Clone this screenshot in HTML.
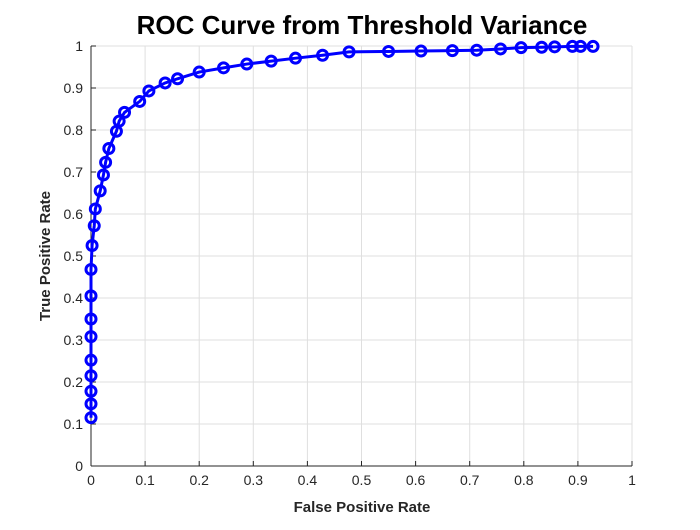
<!DOCTYPE html>
<html><head><style>
body{margin:0;background:#fff;}
svg text{font-family:"Liberation Sans",sans-serif;}
</style></head><body>
<svg id="chart" width="700" height="525" xmlns="http://www.w3.org/2000/svg">
<rect width="700" height="525" fill="#fff"/>
<g id="grid"></g>
<g id="axes"></g>
<g id="series"></g>
<text x="362" y="34" text-anchor="middle" font-size="26" font-weight="bold">ROC Curve from Threshold Variance</text>
<text x="362" y="512" text-anchor="middle" font-size="15" font-weight="bold" fill="#262626">False Positive Rate</text>
<text transform="translate(50,256) rotate(-90)" text-anchor="middle" font-size="15" font-weight="bold" fill="#262626">True Positive Rate</text>
</svg>
<script>
const fpr=[0,0,0,0,0,0,0,0,0,0.002,0.006,0.008,0.017,0.023,0.027,0.033,0.047,0.052,0.062,0.090,0.107,0.137,0.160,0.200,0.245,0.288,0.333,0.378,0.428,0.477,0.55,0.61,0.668,0.713,0.757,0.795,0.833,0.857,0.89,0.905,0.928];
const tpr=[0.115,0.148,0.178,0.215,0.252,0.308,0.350,0.405,0.468,0.525,0.572,0.612,0.655,0.693,0.723,0.756,0.797,0.821,0.842,0.868,0.893,0.912,0.922,0.938,0.948,0.957,0.964,0.971,0.978,0.986,0.987,0.988,0.989,0.990,0.993,0.996,0.997,0.998,0.999,0.999,0.999];
const xTicks=[0,0.1,0.2,0.3,0.4,0.5,0.6,0.7,0.8,0.9,1];
const yTicks=[0,0.1,0.2,0.3,0.4,0.5,0.6,0.7,0.8,0.9,1];
const L=91,R=632,T=46,B=466;
const sx=v=>L+v*(R-L), sy=v=>B-v*(B-T);
const NS="http://www.w3.org/2000/svg";
function mk(tag,attrs,parent){const e=document.createElementNS(NS,tag);for(const k in attrs)e.setAttribute(k,attrs[k]);parent.appendChild(e);return e;}
const grid=document.getElementById('grid'),axes=document.getElementById('axes'),ser=document.getElementById('series');
xTicks.forEach(t=>{
 const g=mk('line',{x1:sx(t),x2:sx(t),y1:T,y2:B,stroke:'#dfdfdf','stroke-width':1},grid);
 
 
 const k=mk('line',{x1:sx(t),x2:sx(t),y1:B,y2:B-5,stroke:'#262626'},axes);
 
 
 const tx=mk('text',{x:sx(t),y:B+19,'text-anchor':'middle','font-size':'14',fill:'#262626'},axes);
 tx.textContent=String(t);
 
 
});
yTicks.forEach(t=>{
 const g=mk('line',{x1:L,x2:R,y1:sy(t),y2:sy(t),stroke:'#dfdfdf','stroke-width':1},grid);
 
 
 const k=mk('line',{x1:L,x2:L+5,y1:sy(t),y2:sy(t),stroke:'#262626'},axes);
 
 
 const tx=mk('text',{x:L-8,y:sy(t)+5,'text-anchor':'end','font-size':'14',fill:'#262626'},axes);
 tx.textContent=String(t);
 
 
});
const xa=mk('line',{x1:L,x2:R,y1:B,y2:B,stroke:'#262626'},axes);


const ya=mk('line',{x1:L,x2:L,y1:T,y2:B,stroke:'#262626'},axes);


const pts=fpr.map((v,i)=>sx(v)+','+sy(tpr[i])).join(' ');
const pl=mk('polyline',{points:pts,fill:'none',stroke:'#0000ff','stroke-width':3},ser);


fpr.forEach((v,i)=>{
 const c=mk('circle',{cx:sx(v),cy:sy(tpr[i]),r:5,fill:'none',stroke:'#0000ff','stroke-width':3},ser);
 
 
});
</script>
</body></html>
